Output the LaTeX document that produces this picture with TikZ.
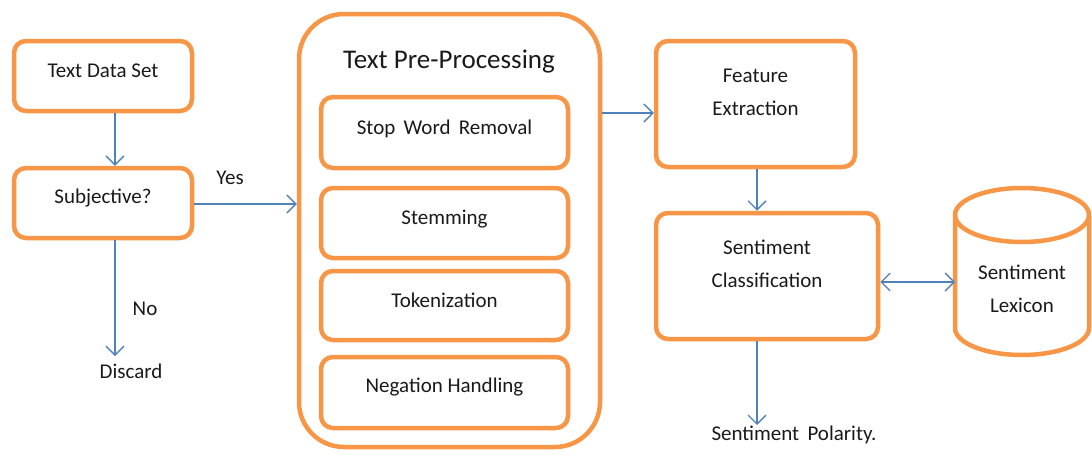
\documentclass[tikz,border=0pt]{standalone}
\usepackage{fontspec}
\setmainfont{Carlito}
\usetikzlibrary{arrows.meta}
\definecolor{boxorange}{HTML}{F79646}
\definecolor{flowblue}{HTML}{4F81BD}
\definecolor{inkdark}{HTML}{1A1A1A}
\tikzset{
  box/.style={draw=boxorange, line width=4.5pt, rounded corners=12pt, fill=white,
              minimum width=#1, inner sep=0pt},
  txt/.style={text=inkdark, font=\fontsize{21}{33}\selectfont, inner sep=0pt, align=center},
  flow/.style={draw=flowblue, line width=1.3pt,
               -{Straight Barb[length=9pt,width=18pt,line width=1.3pt]}},
  biflow/.style={draw=flowblue, line width=1.3pt,
               {Straight Barb[length=9pt,width=18pt,line width=1.3pt]}-{Straight Barb[length=9pt,width=18pt,line width=1.3pt]}},
}
\begin{document}
\begin{tikzpicture}[x=1pt, y=-1pt]
  \useasboundingbox (0,0) rectangle (1092,455);

  % left column
  \node[box=178pt, minimum height=70pt] (data) at (103,76) {};
  \node[txt] (dataT) at (103,71) {Text Data Set};
  \node[box=178pt, minimum height=70pt] (subj) at (103,203) {};
  \node[txt] (subjT) at (103,198) {Subjective?};
  \node[txt] (discard) at (131,371) {Discard};
  \node[txt] (yes) at (230,178) {Yes};
  \node[txt] (no) at (145,309) {No};

  % pre-processing block
  \node[box=301pt, minimum height=433pt, rounded corners=45pt] (pre) at (449.5,230.5) {};
  \node[txt, font=\fontsize{27}{32}\selectfont] (preT) at (449,62) {Text Pre-Processing};
  \node[box=247pt, minimum height=71pt] (stop) at (444.5,132.5) {};
  \node[txt] (stopT) at (444.5,129) {Stop\, Word\, Removal};
  \node[box=247pt, minimum height=70pt] (stem) at (444.5,223) {};
  \node[txt] (stemT) at (444.5,219) {Stemming};
  \node[box=247pt, minimum height=69pt] (tok) at (444.5,305.5) {};
  \node[txt] (tokT) at (444.5,300) {Tokenization};
  \node[box=247pt, minimum height=71pt] (neg) at (444.5,392.5) {};
  \node[txt] (negT) at (444.5,387) {Negation Handling};

  % right part
  \node[box=199pt, minimum height=126pt] (feat) at (755.5,104) {};
  \node[txt] (featT) at (755.5,92) {Feature\\Extraction};
  \node[box=222pt, minimum height=126pt] (cls) at (767,276) {};
  \node[txt] (clsT) at (767,264) {Sentiment\\Classification};
  \node[txt] (pol) at (794,435) {Sentiment\,\ Polarity.};

  % lexicon cylinder
  \coordinate (lexL) at (955,282);
  \draw[draw=boxorange, line width=4.5pt, fill=white]
    (955,215) -- (955,328) arc[start angle=180, end angle=0, x radius=67, y radius=27]
    -- (1089,215) arc[start angle=0, end angle=-180, x radius=67, y radius=27] -- cycle;
  \draw[draw=boxorange, line width=4.5pt]
    (955,215) arc[start angle=180, end angle=0, x radius=67, y radius=27];
  \node[txt] (lexT) at (1022,289) {Sentiment\\Lexicon};

  % connectors
  \draw[flow] (data.south -| 115,0) -- (subj.north -| 115,0);
  \draw[flow] (subj.east |- 0,204) -- (pre.west |- 0,204);
  \coordinate (discardTop) at (115,356);
  \draw[flow] (subj.south -| 115,0) -- (discardTop);
  \draw[flow] (pre.east |- 0,113) -- (feat.west |- 0,113);
  \draw[flow] (feat.south -| 757,0) -- (cls.north -| 757,0);
  \coordinate (polTop) at (757,425);
  \draw[flow] (cls.south -| 757,0) -- (polTop);
  \draw[biflow] (cls.east |- 0,282) -- (lexL);
\end{tikzpicture}
\end{document}
